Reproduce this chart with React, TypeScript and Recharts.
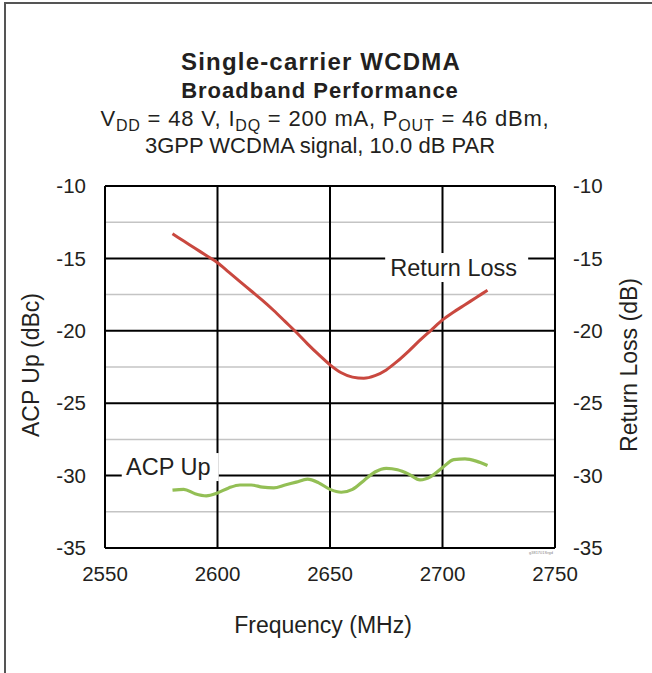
import {
  LineChart,
  Line,
  XAxis,
  YAxis,
  CartesianGrid,
  ReferenceLine,
  ReferenceDot,
} from "recharts";

const freqs = [
  2580, 2585, 2590, 2595, 2600, 2605, 2610, 2615, 2620, 2625, 2630, 2635, 2640, 2645, 2650,
  2655, 2660, 2665, 2670, 2675, 2680, 2685, 2690, 2695, 2700, 2705, 2710, 2715, 2720,
];

const acpUp = [
  -31.0, -30.95, -31.25, -31.4, -31.2, -30.85, -30.65, -30.65, -30.8, -30.85, -30.65, -30.45,
  -30.25, -30.5, -30.95, -31.15, -30.95, -30.35, -29.75, -29.5, -29.6, -29.9, -30.3, -30.05,
  -29.45, -28.9, -28.85, -29.0, -29.3,
];

const returnLoss = [
  -13.3, -13.8, -14.3, -14.8, -15.3, -15.95, -16.6, -17.25, -17.9, -18.6, -19.35, -20.1, -20.9,
  -21.65, -22.35, -22.9, -23.2, -23.28, -23.1, -22.7, -22.1, -21.4, -20.65, -19.95, -19.25,
  -18.7, -18.2, -17.7, -17.2,
];

const xTicks = [2550, 2600, 2650, 2700, 2750];
const yTicks = [-35, -30, -25, -20, -15, -10];
const yMinor = [-12.5, -17.5, -22.5, -27.5, -32.5];

const data = freqs.map((f, i) => ({f, acp: acpUp[i], rl: returnLoss[i]}));

const FONT = '"Liberation Sans", Arial, Helvetica, sans-serif';
const INK = "#231f20";

function boxLabel(text: string, w: number, h: number, dx: number) {
  return (props: any) => {
    const {cx, cy} = props;
    return (
      <g>
        <rect x={cx - w / 2} y={cy - h / 2} width={w} height={h} fill="#fff" />
        <text
          x={cx + dx}
          y={cy}
          textAnchor="middle"
          dominantBaseline="central"
          fontSize={23.5}
          fontFamily={FONT}
          fill={INK}
        >
          {text}
        </text>
      </g>
    );
  };
}

export default function App() {
  const tick = {fill: INK, fontSize: 20.5, fontFamily: FONT};
  return (
    <div
      style={{
        position: "absolute",
        left: 0,
        top: 0,
        width: 652,
        height: 673,
        background: "#fff",
      }}
    >
      <LineChart
        width={652}
        height={673}
        data={data}
        margin={{top: 186, right: 37, bottom: 85, left: 45}}
      >
        <CartesianGrid
          yAxisId="left"
          stroke="#c4c4c4"
          strokeWidth={1.5}
          vertical={false}
          horizontalValues={yMinor}
        />
        <CartesianGrid
          yAxisId="left"
          stroke="#000"
          strokeWidth={2}
          horizontalValues={yTicks}
          verticalValues={xTicks}
        />
        <XAxis
          dataKey="f"
          type="number"
          domain={[2550, 2750]}
          ticks={xTicks}
          tickLine={false}
          axisLine={{stroke: "#000", strokeWidth: 2}}
          tick={tick}
          tickSize={0}
          tickMargin={18}
          height={40}
        />
        <YAxis
          yAxisId="left"
          domain={[-35, -10]}
          ticks={yTicks}
          tickLine={false}
          axisLine={{stroke: "#000", strokeWidth: 2}}
          tick={tick}
          tickSize={0}
          tickMargin={19}
          width={60}
          allowDataOverflow
        />
        <YAxis
          yAxisId="right"
          orientation="right"
          domain={[-35, -10]}
          ticks={yTicks}
          tickLine={false}
          axisLine={{stroke: "#000", strokeWidth: 2}}
          tick={tick}
          tickSize={0}
          tickMargin={18}
          width={60}
          allowDataOverflow
        />
        <ReferenceLine yAxisId="left" y={-10} stroke="#000" strokeWidth={2} />
        <Line
          yAxisId="right"
          dataKey="rl"
          type="monotone"
          stroke="#c9483f"
          strokeWidth={3}
          dot={false}
          isAnimationActive={false}
        />
        <Line
          yAxisId="left"
          dataKey="acp"
          type="monotone"
          stroke="#93bf55"
          strokeWidth={3.2}
          dot={false}
          isAnimationActive={false}
        />
        <ReferenceDot
          yAxisId="right"
          x={2706.3}
          y={-15.63}
          r={0}
          ifOverflow="visible"
          shape={boxLabel("Return Loss", 143, 29, -3)}
        />
        <ReferenceDot
          yAxisId="left"
          x={2579}
          y={-29.41}
          r={0}
          ifOverflow="visible"
          shape={boxLabel("ACP Up", 97, 28, -2)}
        />
      </LineChart>
      <svg
        width={652}
        height={673}
        style={{position: "absolute", left: 0, top: 0, pointerEvents: "none"}}
        fontFamily={FONT}
        fill={INK}
      >
        <polyline points="5,673 5,3 652,3" fill="none" stroke="#555" strokeWidth={2} />
        <text x={321} y={70} textAnchor="middle" fontSize={24} fontWeight="bold" letterSpacing={1.2}>
          Single-carrier WCDMA
        </text>
        <text x={320} y={98} textAnchor="middle" fontSize={22} fontWeight="bold" letterSpacing={1}>
          Broadband Performance
        </text>
        <text x={325} y={126} textAnchor="middle" fontSize={22} letterSpacing={0.8}>
          V<tspan fontSize={16} dy={5}>DD</tspan>
          <tspan dy={-5}>{" = 48 V, I"}</tspan>
          <tspan fontSize={16} dy={5}>DQ</tspan>
          <tspan dy={-5}>{" = 200 mA, P"}</tspan>
          <tspan fontSize={16} dy={5}>OUT</tspan>
          <tspan dy={-5}>{" = 46 dBm,"}</tspan>
        </text>
        <text x={320} y={153} textAnchor="middle" fontSize={22}>
          3GPP WCDMA signal, 10.0 dB PAR
        </text>
        <text x={323} y={633} textAnchor="middle" fontSize={23}>
          Frequency (MHz)
        </text>
        <text transform="translate(39,365) rotate(-90)" textAnchor="middle" fontSize={23}>
          ACP Up (dBc)
        </text>
        <text transform="translate(637,365) rotate(-90)" textAnchor="middle" fontSize={23}>
          Return Loss (dB)
        </text>
        <text x={553} y={554} textAnchor="end" fontSize={4} fill="#888">
          g381701Srgd
        </text>
      </svg>
    </div>
  );
}
